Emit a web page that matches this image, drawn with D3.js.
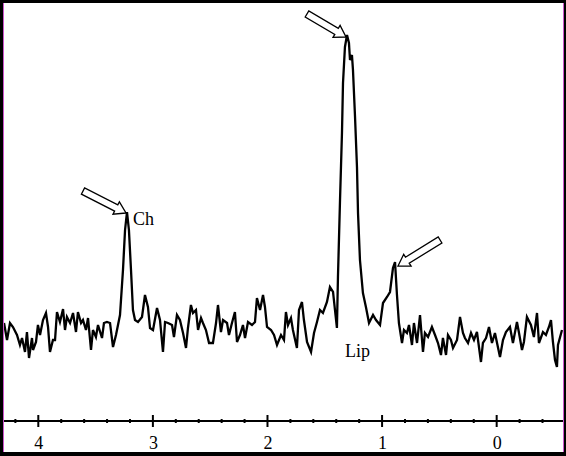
<!DOCTYPE html>
<html>
<head>
<meta charset="utf-8">
<script src="https://cdn.jsdelivr.net/npm/d3@7"></script>
<style>
  body { margin: 0; background: #fff; }
  svg { display: block; }
  text { font-family: "Liberation Serif", "Times New Roman", serif; fill: #000; }
</style>
</head>
<body>
<div id="container"></div>
<script>
var shift = [4.299,4.273,4.247,4.221,4.186,4.160,4.142,4.116,4.099,4.081,4.055,4.046,4.020,4.003,3.985,3.959,3.933,3.915,3.898,3.872,
  3.854,3.837,3.811,3.784,3.767,3.750,3.723,3.697,3.671,3.654,3.627,3.610,3.584,3.566,3.540,3.523,3.497,3.479,3.444,3.427,
  3.401,3.374,3.348,3.322,3.287,3.261,3.243,3.226,3.209,3.191,3.174,3.156,3.130,3.095,3.069,3.043,3.025,2.999,2.964,2.938,
  2.912,2.894,2.868,2.833,2.816,2.790,2.764,2.737,2.711,2.694,2.668,2.650,2.624,2.606,2.580,2.563,2.537,2.510,2.476,2.449,
  2.432,2.406,2.388,2.353,2.336,2.310,2.284,2.266,2.240,2.214,2.196,2.170,2.135,2.109,2.092,2.065,2.039,2.022,2.004,1.969,
  1.943,1.917,1.882,1.856,1.839,1.821,1.795,1.778,1.743,1.725,1.699,1.682,1.655,1.620,1.594,1.568,1.542,1.516,1.481,1.455,
  1.428,1.411,1.394,1.385,1.367,1.350,1.341,1.324,1.306,1.289,1.280,1.263,1.254,1.236,1.219,1.210,1.193,1.167,1.141,1.114,
  1.079,1.053,1.018,0.992,0.957,0.931,0.905,0.887,0.870,0.853,0.826,0.809,0.783,0.765,0.739,0.722,0.695,0.669,0.643,0.626,
  0.599,0.565,0.538,0.512,0.486,0.469,0.442,0.425,0.399,0.381,0.346,0.320,0.294,0.277,0.250,0.224,0.198,0.172,0.137,0.120,
  0.093,0.067,0.041,0.015,-0.029,-0.055,-0.081,-0.116,-0.142,-0.177,-0.195,-0.221,-0.238,-0.264,-0.299,-0.325,-0.352,-0.369,-0.404,-0.430,
  -0.456,-0.474,-0.491,-0.509,-0.526,-0.535,-0.570];

// signal intensity (arbitrary units, baseline ~0)
var signal = [7,-10,7,3,-5,-15,-8,-22,-2,-28,-8,-20,-12,5,-5,10,17,3,-22,-10,
  -10,18,8,21,0,13,7,17,-2,18,7,10,0,12,-20,0,-7,5,-8,7,
  8,7,-17,-5,15,60,100,118,100,60,20,10,8,13,35,23,2,0,22,10,
  -22,8,7,5,-7,15,10,-3,-18,2,25,17,20,0,12,7,0,-13,-13,7,
  25,-2,10,7,-5,7,18,-12,-5,5,-8,8,5,8,32,20,35,23,3,0,
  -5,-15,-5,-10,18,5,12,0,-18,20,28,10,-12,-22,-3,8,20,17,28,43,
  38,20,2,53,130,197,247,283,295,287,270,275,260,213,163,117,70,37,23,7,
  15,10,5,27,33,38,62,68,35,7,-13,0,-3,5,-15,7,-13,15,-22,-3,
  -7,3,-5,-13,-25,-8,-25,-5,-10,-18,-10,13,-3,-8,-13,-3,-10,-2,-32,-13,
  -8,3,-13,-3,-27,-10,-2,3,-13,8,-3,-20,-12,13,5,-7,17,-13,-2,-5,
  3,10,-12,-30,-37,-15,0];

var majorTicks = [4, 3, 2, 1, 0];
var minorTicks = [4.2, 3.8, 3.6, 3.4, 3.2, 2.8, 2.6, 2.4, 2.2, 1.8, 1.6, 1.4, 1.2, 0.8, 0.6, 0.4, 0.2, -0.2, -0.4];

// arrows pointing at peaks (ppm, intensity of the peak)
var arrows = [
  { ppm: 3.226, value: 118, tip: [-1, 1], tail: [-43, -22] },
  { ppm: 1.306, value: 295, tip: [-1, 2], tail: [-39, -23] },
  { ppm: 0.887, value: 68,  tip: [3, 4],  tail: [42, -26] }
];
var labels = [
  { text: "Ch",  ppm: 3.174, value: 105 },
  { text: "Lip", ppm: 1.324, value: -27 }
];

var W = 566, H = 456;

var svg = d3.select("div#container")
  .append("svg")
  .attr("width", W)
  .attr("height", H);

svg.append("rect")
  .attr("width", W)
  .attr("height", H)
  .attr("fill", "#fff");

var x = d3.scaleLinear().domain([4.308, -0.605]).range([3, 566]);
var y = d3.scaleLinear().domain([-40, 300]).range([370, 30]);

// spectrum trace
var pts = shift.map(function(d, i) { return [d, signal[i]]; });
var line = d3.line()
  .x(function(d) { return x(d[0]); })
  .y(function(d) { return y(d[1]); });

svg.append("path")
  .datum(pts)
  .attr("d", line)
  .attr("fill", "none")
  .attr("stroke", "#000")
  .attr("stroke-width", 2.3)
  .attr("stroke-linejoin", "miter");

// hollow block arrows
function arrowPath(a) {
  var tx = x(a.ppm) + a.tip[0], ty = y(a.value) + a.tip[1];
  var sx = tx + a.tail[0], sy = ty + a.tail[1];
  var L = Math.hypot(tx - sx, ty - sy);
  var ux = (tx - sx) / L, uy = (ty - sy) / L;
  var nx = -uy, ny = ux;
  var hl = 11, hw = 7, sw = 3.5;
  var bx = tx - ux * hl, by = ty - uy * hl;
  var p = [
    [tx, ty],
    [bx + nx * hw, by + ny * hw],
    [bx + nx * sw, by + ny * sw],
    [sx + nx * sw, sy + ny * sw],
    [sx - nx * sw, sy - ny * sw],
    [bx - nx * sw, by - ny * sw],
    [bx - nx * hw, by - ny * hw]
  ];
  return "M" + p.map(function(q) { return q[0].toFixed(1) + "," + q[1].toFixed(1); }).join("L") + "Z";
}

svg.append("g")
  .selectAll("path")
  .data(arrows)
  .enter().append("path")
  .attr("d", arrowPath)
  .attr("fill", "#fff")
  .attr("stroke", "#000")
  .attr("stroke-width", 1.3)
  .attr("stroke-linejoin", "miter");

svg.append("g")
  .selectAll("text")
  .data(labels)
  .enter().append("text")
  .attr("x", function(d) { return x(d.ppm); })
  .attr("y", function(d) { return y(d.value); })
  .attr("font-size", 18)
  .text(function(d) { return d.text; });

// ppm axis
var axisY = 421;
svg.append("line")
  .attr("x1", 3).attr("x2", 566)
  .attr("y1", axisY).attr("y2", axisY)
  .attr("stroke", "#000")
  .attr("stroke-width", 2);

svg.append("g")
  .selectAll("line")
  .data(majorTicks)
  .enter().append("line")
  .attr("x1", function(d) { return x(d); })
  .attr("x2", function(d) { return x(d); })
  .attr("y1", axisY - 6).attr("y2", axisY + 6)
  .attr("stroke", "#000")
  .attr("stroke-width", 2);

svg.append("g")
  .selectAll("line")
  .data(minorTicks)
  .enter().append("line")
  .attr("x1", function(d) { return x(d); })
  .attr("x2", function(d) { return x(d); })
  .attr("y1", axisY - 2).attr("y2", axisY + 2)
  .attr("stroke", "#000")
  .attr("stroke-width", 2);

var axis = d3.axisBottom(x)
  .tickValues(majorTicks)
  .tickFormat(d3.format("d"))
  .tickSize(0)
  .tickPadding(15);

var ax = svg.append("g")
  .attr("transform", "translate(0," + axisY + ")")
  .call(axis);
ax.select(".domain").remove();
ax.selectAll("text")
  .attr("font-size", 18)
  .style("font-family", '"Liberation Serif", serif')
  .attr("fill", "#000");

// frame
svg.append("line").attr("x1", 3.5).attr("x2", 3.5).attr("y1", 3).attr("y2", 452)
  .attr("stroke", "#cc55cc").attr("stroke-width", 1);
svg.append("line").attr("x1", 563.5).attr("x2", 563.5).attr("y1", 3).attr("y2", 452)
  .attr("stroke", "#cc55cc").attr("stroke-width", 1);
svg.append("rect").attr("x", 0).attr("y", 0).attr("width", 3).attr("height", H).attr("fill", "#000");
svg.append("rect").attr("x", 0).attr("y", 0).attr("width", W).attr("height", 3).attr("fill", "#000");
svg.append("rect").attr("x", 564).attr("y", 0).attr("width", 2).attr("height", H).attr("fill", "#000");
svg.append("rect").attr("x", 0).attr("y", 452).attr("width", W).attr("height", 4).attr("fill", "#000");
</script>
</body>
</html>
